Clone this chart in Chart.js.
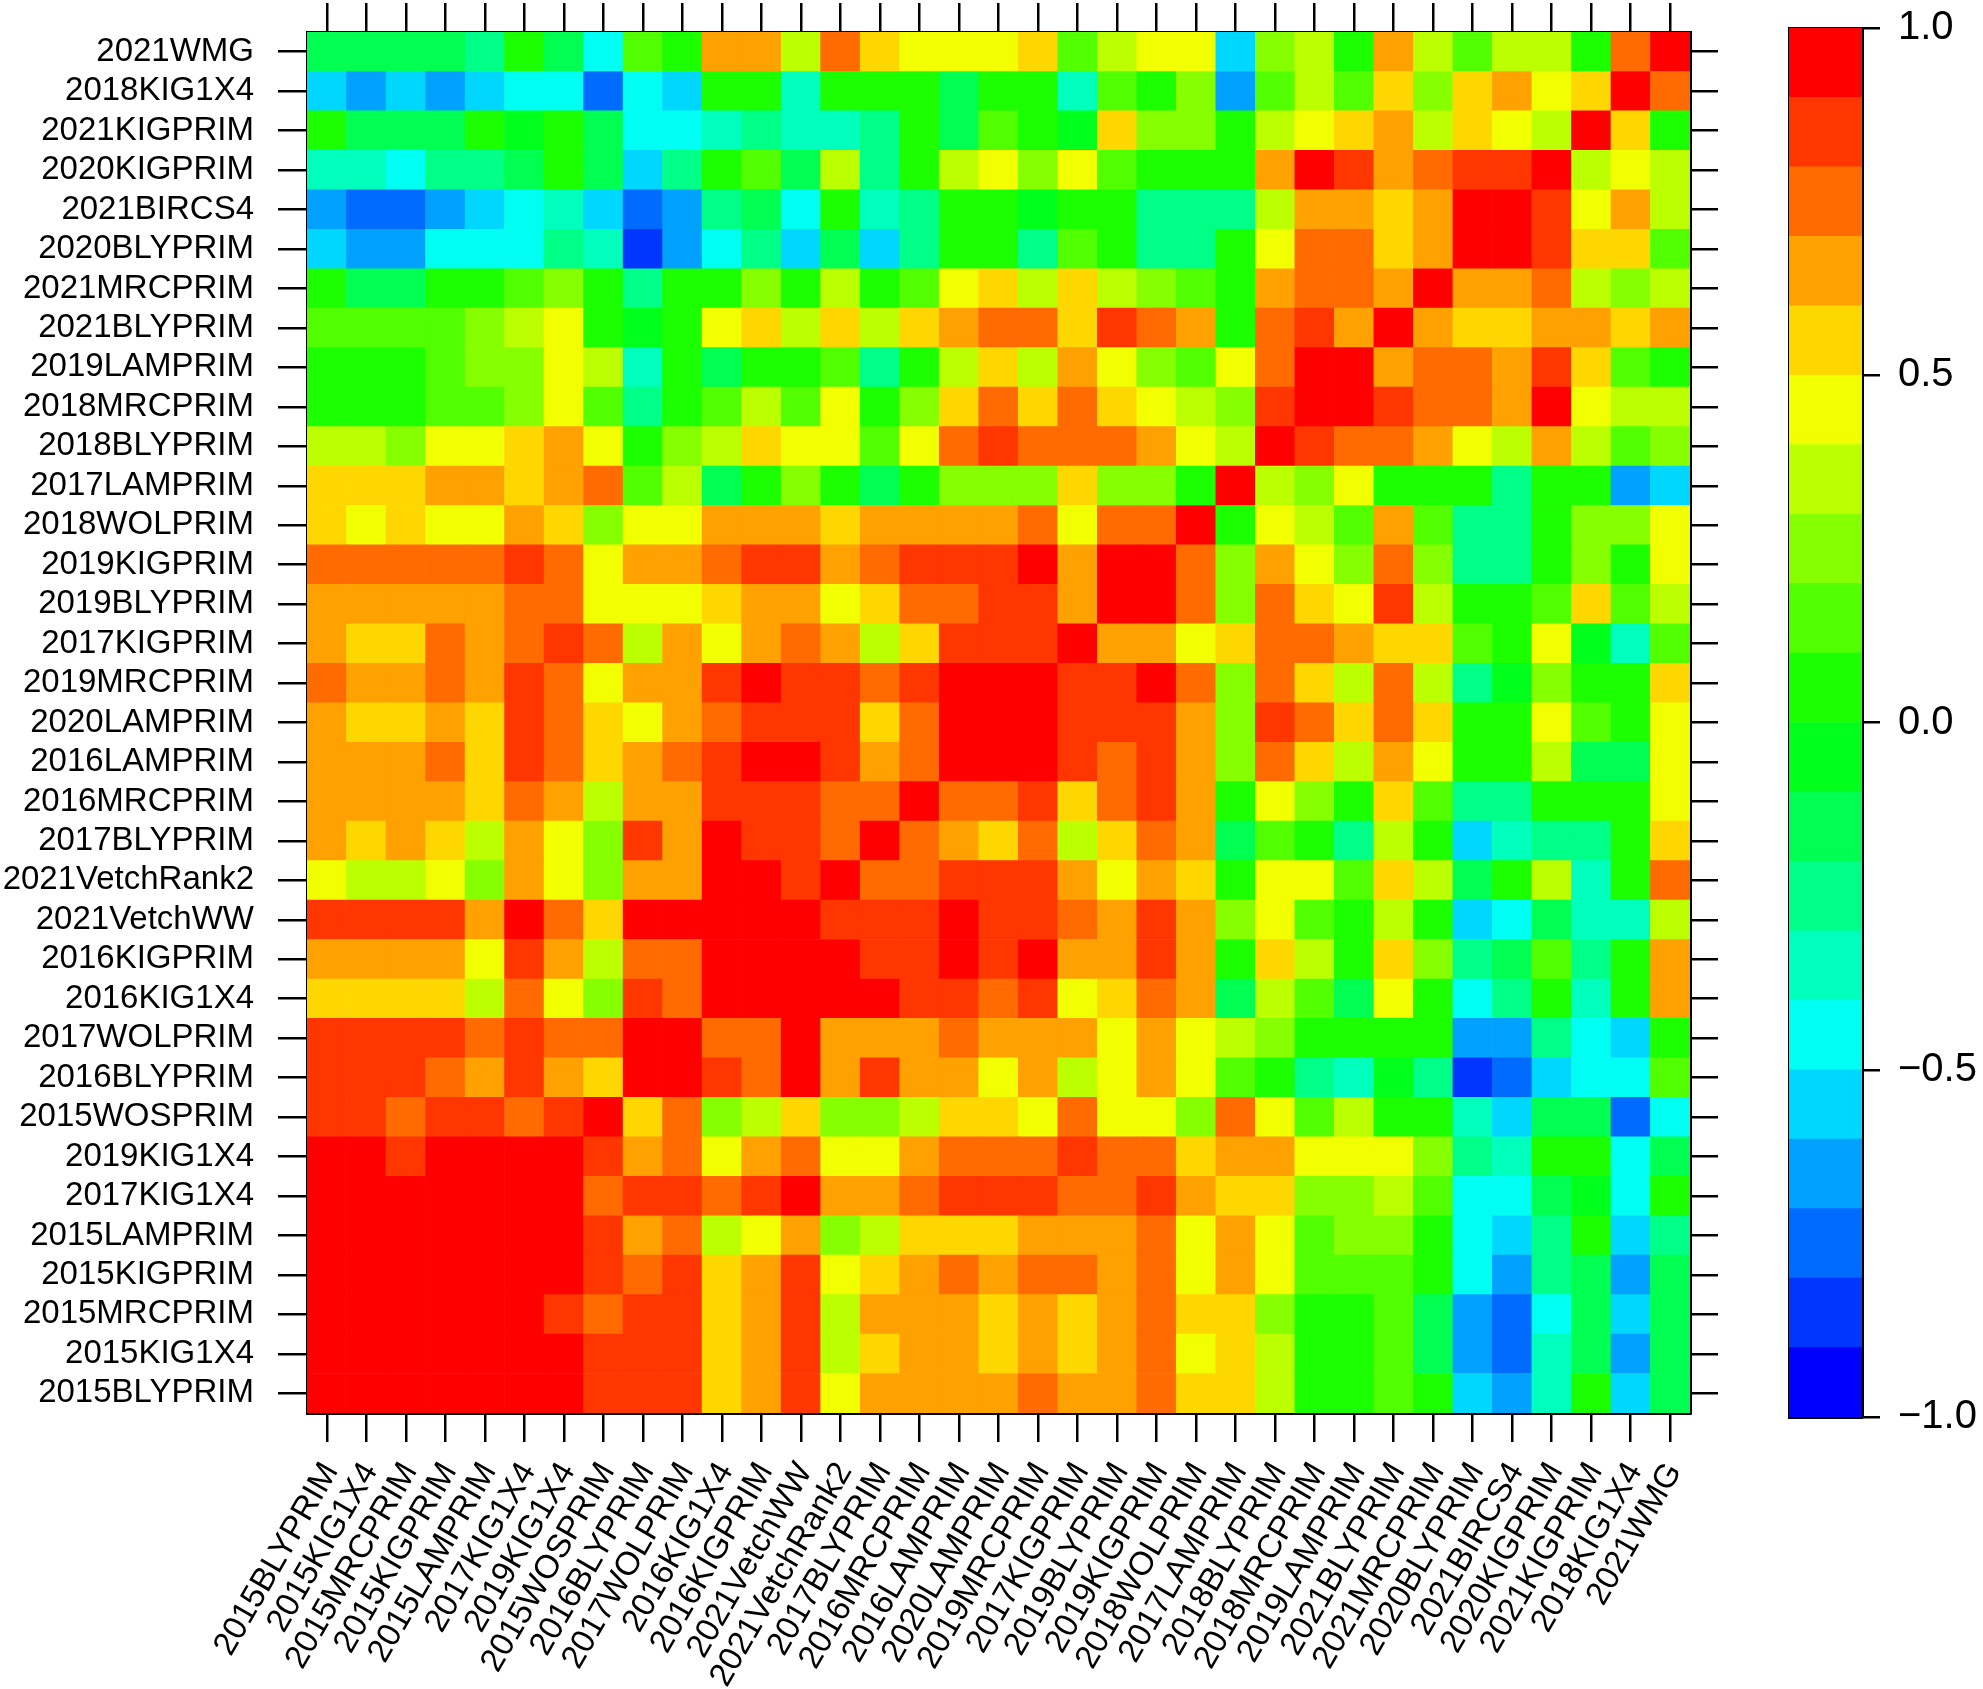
<!DOCTYPE html>
<html lang="en">

<head>
    <meta charset="UTF-8">
    <title>Correlation heatmap</title>
    <script src="https://cdn.jsdelivr.net/npm/chart.js"></script>
    <style>
        html, body { margin: 0; padding: 0; background: #fff; overflow: hidden; }
        #wrap { position: relative; width: 1983px; height: 1689px; }
        #heatCanvas { position: absolute; left: 0; top: 0; }
        #keyCanvas { position: absolute; left: 1760px; top: 0; }
    </style>
</head>

<body>
<div id="wrap">
    <canvas id="heatCanvas" width="1760" height="1689"></canvas>
    <canvas id="keyCanvas" width="223" height="1689"></canvas>
</div>

<script>
    // variables in column order (left to right); rows run the same order bottom to top
    const varNames = [
        '2015BLYPRIM', '2015KIG1X4', '2015MRCPRIM', '2015KIGPRIM', '2015LAMPRIM',
        '2017KIG1X4', '2019KIG1X4', '2015WOSPRIM', '2016BLYPRIM', '2017WOLPRIM',
        '2016KIG1X4', '2016KIGPRIM', '2021VetchWW', '2021VetchRank2', '2017BLYPRIM',
        '2016MRCPRIM', '2016LAMPRIM', '2020LAMPRIM', '2019MRCPRIM', '2017KIGPRIM',
        '2019BLYPRIM', '2019KIGPRIM', '2018WOLPRIM', '2017LAMPRIM', '2018BLYPRIM',
        '2018MRCPRIM', '2019LAMPRIM', '2021BLYPRIM', '2021MRCPRIM', '2020BLYPRIM',
        '2021BIRCS4', '2020KIGPRIM', '2021KIGPRIM', '2018KIG1X4', '2021WMG'
    ];

    // lower triangle of the correlation matrix: lowerTri[i-1][j] = r(var i, var j), j < i
    const lowerTri = [
        [.95],
        [.95, .95],
        [.95, .95, .95],
        [.95, .95, .95, .95],
        [.95, .95, .95, .95, .95],
        [.95, .95, .85, .95, .95, .95],
        [.85, .85, .75, .85, .85, .75, .85],
        [.85, .85, .85, .75, .65, .85, .65, .55],
        [.85, .85, .85, .85, .75, .85, .75, .75, .95],
        [.55, .55, .55, .55, .35, .75, .45, .25, .85, .75],
        [.65, .65, .65, .65, .45, .85, .65, .35, .75, .75, .95],
        [.85, .85, .85, .85, .65, .95, .75, .55, .95, .95, .95, .95],
        [.45, .35, .35, .45, .25, .65, .45, .25, .65, .65, .95, .95, .85],
        [.65, .55, .65, .55, .35, .65, .45, .25, .85, .65, .95, .85, .85, .75],
        [.65, .65, .65, .65, .55, .75, .65, .35, .65, .65, .85, .85, .85, .75, .75],
        [.65, .65, .65, .75, .55, .85, .75, .55, .65, .75, .85, .95, .95, .85, .65, .75],
        [.65, .55, .55, .65, .55, .85, .75, .55, .45, .65, .75, .85, .85, .85, .55, .75, .95],
        [.75, .65, .65, .75, .65, .85, .75, .45, .65, .65, .85, .95, .85, .85, .75, .85, .95, .95],
        [.65, .55, .55, .75, .65, .75, .85, .75, .35, .65, .45, .65, .75, .65, .35, .55, .85, .85, .85],
        [.65, .65, .65, .65, .65, .75, .75, .45, .45, .45, .55, .65, .65, .45, .55, .75, .75, .85, .85, .65],
        [.75, .75, .75, .75, .75, .85, .75, .45, .65, .65, .75, .85, .85, .65, .75, .85, .85, .85, .95, .65, .95],
        [.55, .45, .55, .45, .45, .65, .55, .25, .45, .45, .65, .65, .65, .55, .65, .65, .65, .65, .75, .45, .75, .75],
        [.55, .55, .55, .65, .65, .55, .65, .75, .15, .35, -.15, .05, .25, .05, -.15, .05, .25, .25, .25, .55, .25, .25, .05],
        [.35, .35, .25, .45, .45, .55, .65, .45, .05, .25, .35, .55, .45, .45, .15, .45, .75, .85, .75, .75, .75, .65, .45, .35],
        [.05, .05, .05, .15, .15, .25, .45, .15, -.25, .05, .15, .35, .15, .45, .05, .25, .55, .75, .55, .75, .55, .45, .35, .25, .85],
        [.05, .05, .05, .15, .25, .25, .45, .35, -.35, .05, -.15, .05, .05, .15, -.25, .05, .35, .55, .35, .65, .45, .25, .15, .45, .75, .95],
        [.15, .15, .15, .15, .25, .35, .45, .05, -.05, .05, .45, .55, .35, .55, .35, .55, .65, .75, .75, .55, .85, .75, .65, .05, .75, .85, .65],
        [.05, -.15, -.15, .05, .05, .15, .25, .05, -.25, .05, .05, .25, .05, .35, .05, .15, .45, .55, .35, .55, .35, .25, .15, .05, .65, .75, .75, .65],
        [-.55, -.65, -.65, -.45, -.45, -.45, -.25, -.35, -.85, -.65, -.45, -.25, -.55, -.15, -.55, -.25, .05, .05, -.25, .15, .05, -.25, -.25, .05, .45, .75, .75, .55, .65],
        [-.65, -.75, -.75, -.65, -.55, -.45, -.35, -.55, -.75, -.65, -.25, -.15, -.45, .05, -.35, -.25, .05, .05, -.05, .05, .05, -.25, -.25, -.25, .35, .65, .65, .55, .65, .95],
        [-.35, -.35, -.45, -.25, -.25, -.15, .05, -.15, -.55, -.25, .05, .15, -.15, .35, -.25, .05, .35, .45, .25, .45, .15, .05, .05, .05, .65, .95, .85, .65, .75, .85, .85],
        [.05, -.15, -.15, -.15, .05, -.05, .05, -.15, -.45, -.45, -.35, -.25, -.35, -.35, -.25, .05, -.15, .15, .05, -.05, .55, .25, .25, .05, .35, .45, .55, .65, .35, .55, .45, .35],
        [-.55, -.65, -.55, -.65, -.55, -.45, -.45, -.75, -.45, -.55, .05, .05, -.35, .05, .05, .05, -.15, .05, .05, -.35, .15, .05, .25, -.65, .15, .35, .15, .55, .25, .55, .65, .45, .55],
        [-.15, -.15, -.15, -.15, -.25, .05, -.15, -.45, .15, .05, .65, .65, .35, .75, .55, .45, .45, .45, .55, .15, .35, .45, .45, -.55, .25, .35, .05, .65, .35, .15, .35, .35, .05, .75]
    ];

    // colour key: 20 classes from -1 to 1
    const keyBreaks = [-1.0, -0.9, -0.8, -0.7, -0.6, -0.5, -0.4, -0.3, -0.2, -0.1, 0.0,
        0.1, 0.2, 0.3, 0.4, 0.5, 0.6, 0.7, 0.8, 0.9, 1.0];
    const keyColors = [
        '#0000FF', '#0036FF', '#006BFF', '#00A1FF', '#00D7FF',
        '#00FFF2', '#00FFBC', '#00FF86', '#00FF51', '#00FF1B',
        '#1BFF00', '#51FF00', '#86FF00', '#BCFF00', '#F2FF00',
        '#FFD700', '#FFA100', '#FF6B00', '#FF3600', '#FF0000'
    ];
    const keyTicks = [-1.0, -0.5, 0.0, 0.5, 1.0];

    const FONT = "'Liberation Sans', Arial, Helvetica, sans-serif";

    // full symmetric matrix from the lower triangle
    const corr = varNames.map((_, i) => varNames.map((_, j) => {
        if (i === j) return 1;
        return i > j ? lowerTri[i - 1][j] : lowerTri[j - 1][i];
    }));

    function colorFor(v) {
        for (let k = 0; k < keyColors.length; k++) {
            if (v < keyBreaks[k + 1]) return keyColors[k];
        }
        return keyColors[keyColors.length - 1];
    }

    const tickGrid = {
        offset: false,
        drawOnChartArea: false,
        drawTicks: true,
        tickLength: 29,
        color: '#000',
        lineWidth: 2.5
    };
    const boxBorder = { display: true, color: '#000', width: 3 };

    // keep the plot box where it is, whatever the labels want
    const noPad = s => { s.paddingTop = 0; s.paddingBottom = 0; s.paddingLeft = 0; s.paddingRight = 0; };

    // one floating-bar dataset per matrix row
    const heatSets = varNames.map((name, r) => ({
        label: name,
        data: varNames.map(() => [r, r + 1]),
        backgroundColor: varNames.map((_, c) => colorFor(corr[r][c])),
        borderWidth: 0,
        grouped: false,
        barPercentage: 1,
        categoryPercentage: 1,
        xAxisID: 'x',
        yAxisID: 'y'
    }));

    new Chart(document.getElementById('heatCanvas'), {
        type: 'bar',
        data: { labels: varNames, datasets: heatSets },
        options: {
            responsive: false,
            animation: false,
            layout: { padding: 0 },
            plugins: { legend: { display: false }, tooltip: { enabled: false } },
            scales: {
                x: {
                    type: 'category',
                    position: 'bottom',
                    offset: true,
                    grid: tickGrid,
                    border: boxBorder,
                    ticks: {
                        autoSkip: false,
                        minRotation: 60,
                        maxRotation: 60,
                        padding: 14,
                        labelOffset: 4,
                        color: '#000',
                        font: { family: FONT, size: 33 }
                    },
                    afterFit: s => { s.height = 276; noPad(s); }
                },
                xTop: {
                    type: 'category',
                    labels: varNames,
                    position: 'top',
                    offset: true,
                    grid: tickGrid,
                    border: boxBorder,
                    ticks: { display: false },
                    afterFit: s => { s.height = 32; noPad(s); }
                },
                y: {
                    type: 'linear',
                    min: 0,
                    max: varNames.length,
                    display: false
                },
                yLeft: {
                    type: 'category',
                    labels: varNames.slice().reverse(),
                    position: 'left',
                    offset: true,
                    grid: tickGrid,
                    border: boxBorder,
                    ticks: {
                        autoSkip: false,
                        padding: 24,
                        color: '#000',
                        font: { family: FONT, size: 33 }
                    },
                    afterFit: s => { s.width = 307; noPad(s); }
                },
                yRight: {
                    type: 'category',
                    labels: varNames.slice().reverse(),
                    position: 'right',
                    offset: true,
                    grid: Object.assign({}, tickGrid, { tickLength: 28 }),
                    border: boxBorder,
                    ticks: { display: false },
                    afterFit: s => { s.width = 70; noPad(s); }
                }
            }
        }
    });

    // colour key on the right
    const keySets = keyColors.map((col, k) => ({
        data: [[keyBreaks[k], keyBreaks[k + 1]]],
        backgroundColor: col,
        borderWidth: 0,
        grouped: false,
        barPercentage: 1,
        categoryPercentage: 1,
        xAxisID: 'x',
        yAxisID: 'yLeft'
    }));

    new Chart(document.getElementById('keyCanvas'), {
        type: 'bar',
        data: { labels: [''], datasets: keySets },
        options: {
            responsive: false,
            animation: false,
            layout: { padding: { left: 29, top: 28, bottom: 272, right: 0 } },
            plugins: { legend: { display: false }, tooltip: { enabled: false } },
            scales: {
                x: {
                    type: 'category',
                    position: 'bottom',
                    grid: { display: false },
                    border: boxBorder,
                    ticks: { display: false },
                    afterFit: s => { s.height = 0; noPad(s); }
                },
                xTop: {
                    type: 'category',
                    labels: [''],
                    position: 'top',
                    grid: { display: false },
                    border: boxBorder,
                    ticks: { display: false },
                    afterFit: s => { s.height = 0; noPad(s); }
                },
                yLeft: {
                    type: 'linear',
                    position: 'left',
                    min: -1,
                    max: 1,
                    grid: { display: false },
                    border: boxBorder,
                    ticks: { display: false },
                    afterFit: s => { s.width = 0; noPad(s); }
                },
                y: {
                    type: 'linear',
                    position: 'right',
                    min: -1,
                    max: 1,
                    afterBuildTicks: s => { s.ticks = keyTicks.map(v => ({ value: v })); },
                    grid: {
                        drawOnChartArea: false,
                        drawTicks: true,
                        tickLength: 18,
                        color: '#000',
                        lineWidth: 2.5
                    },
                    border: boxBorder,
                    ticks: {
                        padding: 18,
                        color: '#000',
                        font: { family: FONT, size: 40 },
                        callback: v => (v < 0 ? '\u2212' : '') + Math.abs(v).toFixed(1)
                    },
                    afterFit: s => { s.width = 121; noPad(s); }
                }
            }
        }
    });
</script>
</body>

</html>
